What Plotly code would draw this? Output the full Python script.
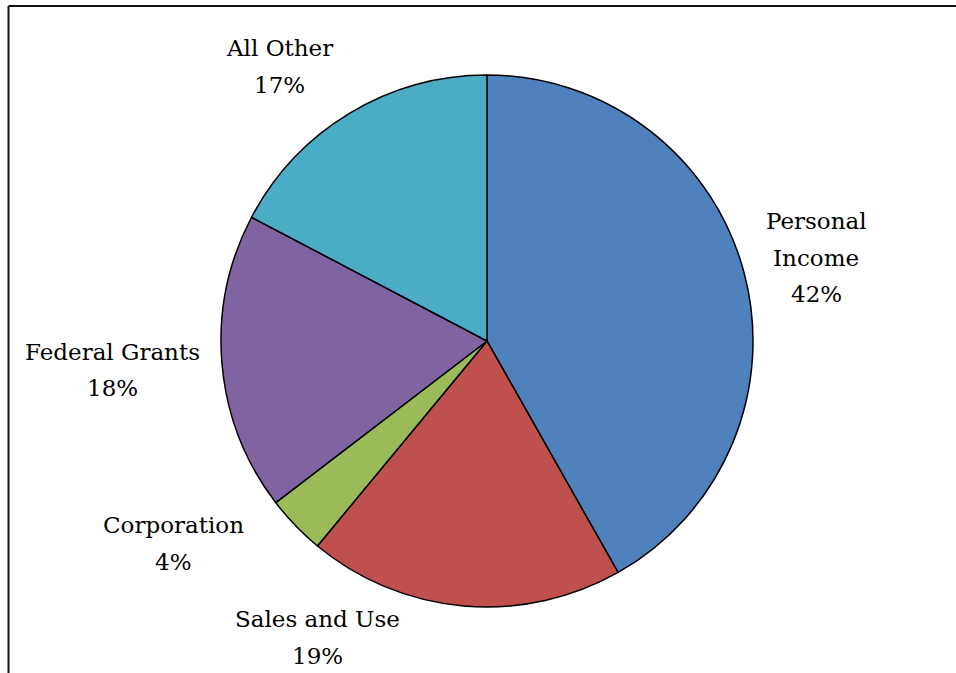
import plotly.graph_objects as go

# Data
categories = ["Personal Income", "Sales and Use", "Corporation", "Federal Grants", "All Other"]
values = [41.8, 19.2, 3.6, 18.1, 17.3]
label_lines = [["Personal", "Income"], ["Sales and Use"], ["Corporation"], ["Federal Grants"], ["All Other"]]

# Styles / layout
colors = ["#4F81BD", "#C0504D", "#9BBB59", "#8064A2", "#4BACC6"]
W, H = 956, 673
cx, cy, R = 487, 341, 266
# label block centers (px) and first-line y
label_pos = [(816, 221), (317, 619), (173, 525), (112, 352), (279, 48)]
line_step = 36.5
FONT = "DejaVu Serif"
FSIZE = 23

fig = go.Figure(go.Pie(
    labels=categories,
    values=values,
    sort=False,
    direction="clockwise",
    rotation=0,
    textinfo="none",
    hoverinfo="label+percent",
    marker=dict(colors=colors, line=dict(color="black", width=1.5)),
    domain=dict(x=[(cx - R) / W, (cx + R) / W], y=[(H - cy - R) / H, (H - cy + R) / H]),
    showlegend=False,
))

total = sum(values)
annotations = []
for lines, v, (px, py) in zip(label_lines, values, label_pos):
    all_lines = lines + [f"{round(100 * v / total)}%"]
    for i, t in enumerate(all_lines):
        y = py + i * line_step
        annotations.append(dict(
            x=px / W, y=1 - y / H, xref="paper", yref="paper",
            text=t, showarrow=False, xanchor="center", yanchor="middle",
            font=dict(family=FONT, size=FSIZE, color="black"),
        ))

shapes = [
    dict(type="line", xref="paper", yref="paper", x0=8.5 / W, x1=8.5 / W, y0=-0.05, y1=1 - 6 / H,
         line=dict(color="#111", width=2)),
    dict(type="line", xref="paper", yref="paper", x0=8.5 / W, x1=1.05, y0=1 - 6 / H, y1=1 - 6 / H,
         line=dict(color="#111", width=2)),
]

fig.update_layout(
    width=W, height=H,
    margin=dict(l=0, r=0, t=0, b=0),
    paper_bgcolor="white", plot_bgcolor="white",
    annotations=annotations,
    shapes=shapes,
)

fig.write_html("out.html",
               config={"displayModeBar": False},
               post_script="document.body.style.margin='0';document.body.style.overflow='hidden';")
